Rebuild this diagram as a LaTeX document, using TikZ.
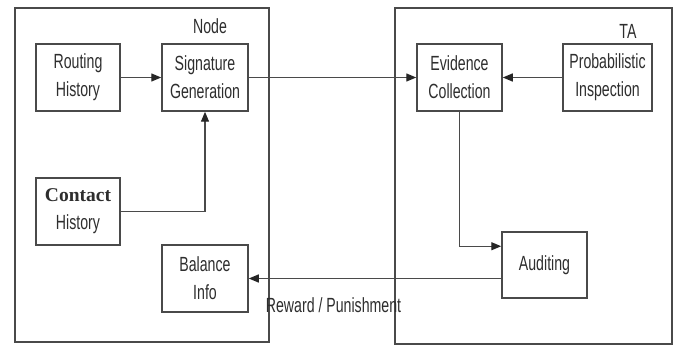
\documentclass[tikz,border=0pt]{standalone}
\usepackage{fontspec}
\setmainfont{Liberation Sans}
\newfontfamily\narrowfont[FakeStretch=0.69]{Liberation Sans}
\newfontfamily\serifbold{Liberation Serif}
\usetikzlibrary{arrows.meta,calc}
\definecolor{linegray}{HTML}{4A4A4A}
\definecolor{textgray}{HTML}{2E2E2E}
\tikzset{
  box/.style={draw=linegray, line width=1.5pt, rectangle, align=center, inner sep=0pt,
    minimum height=67pt, text=textgray, font=\narrowfont\fontsize{20.5}{28}\selectfont},
  outer/.style={draw=linegray, line width=1.5pt},
  conn/.style={draw=linegray, line width=1.3pt, -{Triangle[length=10pt,width=8pt,color=black!85]}},
  lbl/.style={text=textgray, font=\narrowfont\fontsize{20.5}{24}\selectfont, inner sep=0pt}
}
\begin{document}
\begin{tikzpicture}[x=1pt,y=-1pt]
\useasboundingbox[fill=white] (0,0) rectangle (678,347);
\draw[outer] (15,8) rectangle (269,342);
\draw[outer] (395,8) rectangle (672,344);
\node[lbl] (nodelbl) at (210,26) {Node};
\node[lbl] (talbl) at (628,31) {TA};
\node[box, minimum width=84pt] (routing) at (78,77.5) {Routing\\History};
\node[box, minimum width=86pt] (sig) at (205,77.5) {Signature\\Generation};
\node[box, minimum width=84pt] (contact) at (78,211.5) {{\serifbold\bfseries\fontsize{19.5}{28}\selectfont Contact}\\History};
\node[box, minimum width=86pt] (balance) at (205,278.5) {Balance\\Info};
\node[box, minimum width=85pt] (evidence) at (459.5,77.5) {Evidence\\Collection};
\node[box, minimum width=89pt] (prob) at (607.5,77.5) {Probabilistic\\Inspection};
\node[box, minimum width=85pt, minimum height=66pt] (audit) at (544.5,265) {Auditing};
\node[lbl] (reward) at (333.5,305) {Reward / Punishment};
\draw[conn] (routing.east) -- (sig.west);
\draw[conn] (contact.east) -| (sig.south);
\draw[conn] (sig.east) -- (evidence.west);
\draw[conn] (prob.west) -- (evidence.east);
\coordinate (auditin) at ($(audit.north west)+(0,15)$);
\draw[conn] (evidence.south) |- (auditin);
\draw[conn] (audit.west |- balance.east) -- (balance.east);
\end{tikzpicture}
\end{document}
